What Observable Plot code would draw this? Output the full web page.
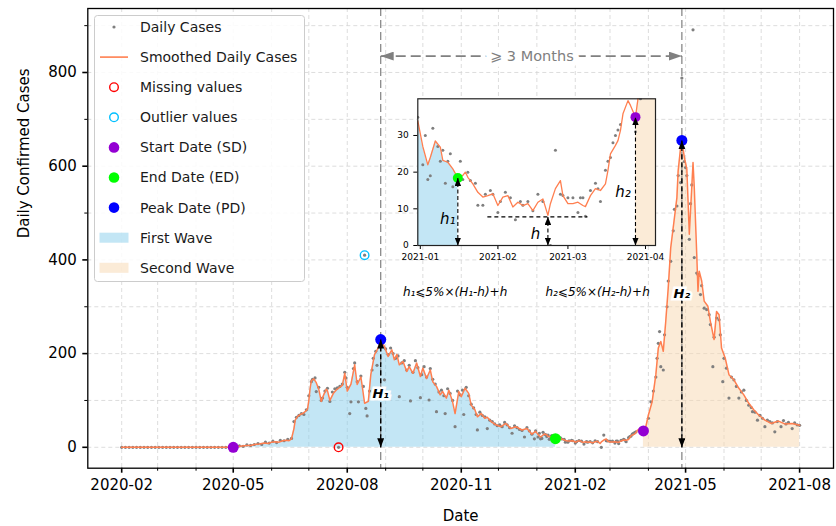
<!DOCTYPE html>
<html><head><meta charset="utf-8">
<script src="https://cdn.jsdelivr.net/npm/d3@7"></script>
<script src="https://cdn.jsdelivr.net/npm/@observablehq/plot@0.6"></script>
<style>
body{margin:0;background:#fff;font-family:"DejaVu Sans",sans-serif}
#wrap{position:relative;width:836px;height:526px;overflow:hidden}
</style></head><body><div id="wrap"></div>
<script>
// ---------------- data ----------------
const smoothPre = [["2020-02-01",0],["2020-03-01",0],["2020-04-01",0],["2020-05-01",0]];
const smoothWave1 = [["2020-05-04",1],["2020-05-08",3],["2020-05-12",4],["2020-05-15",4],["2020-05-18",6],["2020-05-22",7],["2020-05-26",9],["2020-05-29",8],["2020-06-01",11],["2020-06-04",12],["2020-06-07",11],["2020-06-10",14],["2020-06-13",15],["2020-06-15",14],["2020-06-17",18],["2020-06-19",40],["2020-06-20",58],["2020-06-22",66],["2020-06-24",70],["2020-06-26",72],["2020-06-28",76],["2020-06-30",82],["2020-07-01",100],["2020-07-02",125],["2020-07-03",142],["2020-07-05",146],["2020-07-07",138],["2020-07-09",124],["2020-07-11",98],["2020-07-13",112],["2020-07-15",124],["2020-07-16",121],["2020-07-18",100],["2020-07-21",116],["2020-07-23",122],["2020-07-25",126],["2020-07-28",132],["2020-07-30",158],["2020-08-01",120],["2020-08-04",135],["2020-08-07",176],["2020-08-09",134],["2020-08-12",150],["2020-08-13",132],["2020-08-15",94],["2020-08-18",98],["2020-08-20",155],["2020-08-23",198],["2020-08-26",212],["2020-08-28",230],["2020-08-31",215],["2020-09-03",194],["2020-09-06",208],["2020-09-08",187],["2020-09-10",198],["2020-09-12",176],["2020-09-15",183],["2020-09-18",162],["2020-09-20",172],["2020-09-23",158],["2020-09-26",180],["2020-09-29",151],["2020-10-01",169],["2020-10-04",147],["2020-10-07",165],["2020-10-09",140],["2020-10-12",130],["2020-10-15",112],["2020-10-17",119],["2020-10-20",105],["2020-10-22",122],["2020-10-25",97],["2020-10-27",72],["2020-10-30",119],["2020-11-01",108],["2020-11-04",126],["2020-11-07",115],["2020-11-09",90],["2020-11-12",80],["2020-11-14",65],["2020-11-17",72],["2020-11-20",62],["2020-11-22",64],["2020-11-25",55],["2020-11-29",48],["2020-12-03",44],["2020-12-07",51],["2020-12-11",40],["2020-12-15",44],["2020-12-20",37],["2020-12-24",40],["2020-12-28",28],["2020-12-31",34],["2021-01-02",27],["2021-01-04",22],["2021-01-05",24],["2021-01-07",28.5],["2021-01-09",26.8],["2021-01-10",23.2],["2021-01-12",22.7],["2021-01-14",20.9],["2021-01-16",18.4]];
const smoothTrough = [["2021-01-18",19.1],["2021-01-19",20],["2021-01-20",18.6],["2021-01-22",16.8],["2021-01-24",14.5],["2021-01-26",13.2],["2021-01-28",13.6],["2021-01-30",14.1],["2021-02-01",10.9],["2021-02-03",13.2],["2021-02-05",13.6],["2021-02-07",10.5],["2021-02-09",11.8],["2021-02-11",10.9],["2021-02-13",11.4],["2021-02-15",9.5],["2021-02-17",11.8],["2021-02-19",12.7],["2021-02-21",8.2],["2021-02-22",11.4],["2021-02-24",15.5],["2021-02-26",17.7],["2021-02-27",13.6],["2021-03-01",11.4],["2021-03-03",11.4],["2021-03-05",11.8],["2021-03-07",10.9],["2021-03-08",10.6],["2021-03-10",13.6],["2021-03-12",15.5],["2021-03-14",15],["2021-03-16",16.8],["2021-03-17",20.5],["2021-03-18",25],["2021-03-20",27.3],["2021-03-21",28.6],["2021-03-22",31.4],["2021-03-23",35.9],["2021-03-25",39.5],["2021-03-26",38.2]];
const smoothWave2 = [["2021-03-28",35],["2021-03-30",45],["2021-04-01",69],["2021-04-04",97],["2021-04-07",155],["2021-04-09",212],["2021-04-11",226],["2021-04-13",205],["2021-04-15",269],["2021-04-17",340],["2021-04-19",426],["2021-04-22",490],["2021-04-24",533],["2021-04-25",590],["2021-04-27",640],["2021-04-28",655],["2021-04-30",619],["2021-05-02",594],["2021-05-04",455],["2021-05-06",555],["2021-05-07",608],["2021-05-08",555],["2021-05-10",412],["2021-05-11",333],["2021-05-12",376],["2021-05-14",355],["2021-05-16",312],["2021-05-19",301],["2021-05-21",269],["2021-05-24",230],["2021-05-26",290],["2021-05-28",283],["2021-05-30",212],["2021-06-02",190],["2021-06-05",155],["2021-06-09",144],["2021-06-13",126],["2021-06-17",112],["2021-06-21",94],["2021-06-25",80],["2021-06-29",69],["2021-07-04",58],["2021-07-09",51],["2021-07-15",56],["2021-07-20",50],["2021-07-26",51],["2021-08-01",47]];

const dailyPre = [["2020-02-01",0],["2020-02-04",0],["2020-02-07",0],["2020-02-10",0],["2020-02-13",0],["2020-02-16",0],["2020-02-19",0],["2020-02-22",0],["2020-02-25",0],["2020-02-28",0],["2020-03-02",0],["2020-03-05",0],["2020-03-08",0],["2020-03-11",0],["2020-03-14",0],["2020-03-17",0],["2020-03-20",0],["2020-03-23",0],["2020-03-26",0],["2020-03-29",0],["2020-04-01",0],["2020-04-04",0],["2020-04-07",0],["2020-04-10",0],["2020-04-13",0],["2020-04-16",0],["2020-04-19",0],["2020-04-22",0],["2020-04-25",0],["2020-04-28",0],["2020-05-01",0]];
const dailyWave1 = [["2020-05-03",1],["2020-05-06",3],["2020-05-09",2],["2020-05-12",5],["2020-05-15",4],["2020-05-18",6],["2020-05-21",8],["2020-05-24",6],["2020-05-27",11],["2020-05-30",9],["2020-06-02",13],["2020-06-05",10],["2020-06-08",15],["2020-06-11",14],["2020-06-14",17],["2020-06-17",19],["2020-06-19",55],["2020-06-21",64],["2020-06-23",68],["2020-06-25",72],["2020-06-27",70],["2020-06-29",80],["2020-07-01",110],["2020-07-03",140],["2020-07-04",145],["2020-07-06",148],["2020-07-07",119],["2020-07-09",128],["2020-07-11",100],["2020-07-12",105],["2020-07-14",120],["2020-07-16",126],["2020-07-18",98],["2020-07-20",118],["2020-07-22",125],["2020-07-24",127],["2020-07-25",0],["2020-07-26",130],["2020-07-28",135],["2020-07-30",160],["2020-07-31",148],["2020-08-01",128],["2020-08-03",72],["2020-08-04",97],["2020-08-06",168],["2020-08-07",180],["2020-08-09",140],["2020-08-10",97],["2020-08-12",152],["2020-08-14",130],["2020-08-15",410],["2020-08-16",83],["2020-08-17",67],["2020-08-19",120],["2020-08-21",165],["2020-08-22",190],["2020-08-24",205],["2020-08-25",175],["2020-08-27",215],["2020-08-29",222],["2020-08-30",225],["2020-08-31",144],["2020-09-01",210],["2020-09-03",198],["2020-09-05",212],["2020-09-07",200],["2020-09-09",190],["2020-09-11",195],["2020-09-12",108],["2020-09-14",180],["2020-09-16",185],["2020-09-18",165],["2020-09-20",175],["2020-09-21",99],["2020-09-23",160],["2020-09-25",185],["2020-09-27",170],["2020-09-29",106],["2020-09-30",155],["2020-10-02",172],["2020-10-04",150],["2020-10-06",101],["2020-10-07",168],["2020-10-09",145],["2020-10-11",135],["2020-10-12",76],["2020-10-14",118],["2020-10-16",122],["2020-10-18",110],["2020-10-19",72],["2020-10-21",125],["2020-10-23",115],["2020-10-25",100],["2020-10-27",44],["2020-10-29",120],["2020-10-31",112],["2020-11-02",122],["2020-11-03",70],["2020-11-05",128],["2020-11-07",110],["2020-11-09",92],["2020-11-11",84],["2020-11-13",70],["2020-11-14",37],["2020-11-16",75],["2020-11-18",68],["2020-11-20",65],["2020-11-22",40],["2020-11-24",58],["2020-11-26",55],["2020-11-28",50],["2020-11-30",46],["2020-12-02",48],["2020-12-04",44],["2020-12-06",53],["2020-12-08",48],["2020-12-10",42],["2020-12-12",30],["2020-12-14",46],["2020-12-16",42],["2020-12-18",38],["2020-12-20",36],["2020-12-22",22],["2020-12-24",42],["2020-12-26",35],["2020-12-28",28],["2020-12-30",18],["2020-12-31",35],["2021-01-02",22],["2021-01-03",30],["2021-01-04",18],["2021-01-05",19],["2021-01-06",32],["2021-01-08",27],["2021-01-09",23],["2021-01-10",26],["2021-01-11",17],["2021-01-12",23],["2021-01-13",25],["2021-01-14",16],["2021-01-15",18]];
const dailyTrough = [["2021-01-17",23],["2021-01-18",18],["2021-01-20",20],["2021-01-21",17.7],["2021-01-23",17],["2021-01-24",11],["2021-01-26",11],["2021-01-27",14],["2021-01-29",15],["2021-01-30",14],["2021-02-01",9],["2021-02-02",12],["2021-02-04",14.5],["2021-02-06",13],["2021-02-08",7],["2021-02-10",12],["2021-02-11",11],["2021-02-13",12],["2021-02-15",9.5],["2021-02-17",14],["2021-02-19",12],["2021-02-22",0],["2021-02-24",26],["2021-02-26",14],["2021-02-27",13.6],["2021-03-01",13],["2021-03-03",13],["2021-03-05",9],["2021-03-06",13],["2021-03-07",13],["2021-03-08",8],["2021-03-10",15],["2021-03-12",17],["2021-03-13",15.5],["2021-03-14",12],["2021-03-16",20.5],["2021-03-17",23],["2021-03-18",24],["2021-03-19",28],["2021-03-20",30],["2021-03-21",31.5],["2021-03-22",33]];
const dailyWave2 = [["2021-03-28",31],["2021-03-30",40],["2021-04-01",62],["2021-04-03",97],["2021-04-05",120],["2021-04-07",150],["2021-04-08",190],["2021-04-09",222],["2021-04-10",247],["2021-04-11",172],["2021-04-13",165],["2021-04-14",240],["2021-04-16",300],["2021-04-17",355],["2021-04-19",397],["2021-04-21",462],["2021-04-22",508],["2021-04-24",515],["2021-04-25",580],["2021-04-27",565],["2021-04-28",788],["2021-04-29",640],["2021-04-30",610],["2021-05-01",597],["2021-05-02",580],["2021-05-04",444],["2021-05-05",520],["2021-05-06",560],["2021-05-07",891],["2021-05-08",405],["2021-05-10",372],["2021-05-11",369],["2021-05-13",326],["2021-05-14",345],["2021-05-16",297],["2021-05-18",294],["2021-05-20",283],["2021-05-21",262],["2021-05-23",172],["2021-05-24",235],["2021-05-26",276],["2021-05-28",272],["2021-05-29",240],["2021-05-31",140],["2021-06-01",190],["2021-06-03",169],["2021-06-05",105],["2021-06-07",150],["2021-06-09",144],["2021-06-11",130],["2021-06-13",105],["2021-06-15",118],["2021-06-17",122],["2021-06-19",100],["2021-06-21",90],["2021-06-23",85],["2021-06-24",76],["2021-06-26",75],["2021-06-28",58],["2021-06-30",68],["2021-07-02",62],["2021-07-04",44],["2021-07-06",58],["2021-07-08",55],["2021-07-10",52],["2021-07-12",33],["2021-07-14",55],["2021-07-17",44],["2021-07-19",57],["2021-07-21",50],["2021-07-23",53],["2021-07-26",40],["2021-07-28",52],["2021-07-30",48],["2021-08-01",47]];

const startDates = ["2020-05-01","2021-03-28"], startValues = [0, 35];
const endDates = ["2021-01-16"], endValues = [18.4];
const peakDates = ["2020-08-28","2021-04-28"], peakValues = [230, 655];
const missingDates = ["2020-07-25"], missingValues = [0];
const outlierDates = ["2020-08-15"], outlierValues = [410];
const waveStarts = ["2020-05-01","2021-03-28"], waveEnds = ["2021-01-16","2021-08-01"];

const xTickLabels = ["2020-02","2020-05","2020-08","2020-11","2021-02","2021-05","2021-08"];
const yTicks = [0,200,400,600,800];
const yMinorTicks = [100,300,500,700,900];
const insetXTickLabels = ["2021-01","2021-02","2021-03","2021-04"];
const insetYTicks = [0,10,20,30];

const gapLabel = "⩾ 3 Months", gapLevel = 835, gapLabelDate = "2020-12-28";
const heightLabels = ["H₁","H₂"], heightLabelValues = [115, 327];
const formulaLabels = ["h₁⩽5%×(H₁-h)+h","h₂⩽5%×(H₂-h)+h"], formulaDates = ["2020-10-27","2021-02-19"], formulaLevel = 331;
const insetRange = ["2020-12-31","2021-04-05"];
const hDate = "2021-02-21", hLevel = 7.8, hLineRange = ["2021-01-28","2021-03-09"];
const insetLabels = ["h₁","h","h₂"], insetLabelDates = ["2021-01-12","2021-02-16","2021-03-23"], insetLabelValues = [7.3, 3.2, 14.5];

const legendLabels = ["Daily Cases","Smoothed Daily Cases","Missing values","Outlier values","Start Date (SD)","End Date (ED)","Peak Date (PD)","First Wave","Second Wave"];

// ---------------- colours ----------------
const C = {dot:"#7f7f7f", line:"#ff7f50", miss:"#ff0000", out:"#00bfff", sd:"#9400d3", ed:"#00ff00", pd:"#0000ff", w1:"#87ceeb", w2:"#f8d7b0"};

// ---------------- helpers ----------------
const P = s => new Date(s + "T00:00:00Z");
const rows = a => a.map(([d, v]) => ({date: P(d), value: v}));
const pts = (ds, vs) => ds.map((d, i) => ({date: P(d), value: vs[i]}));
const smooth = rows([...smoothPre, ...smoothWave1, ...smoothTrough, ...smoothWave2]);
const daily = rows([...dailyPre, ...dailyWave1, ...dailyTrough, ...dailyWave2]);
const wave1 = smooth.filter(d => d.date >= P(waveStarts[0]) && d.date <= P(waveEnds[0]));
const wave2 = smooth.filter(d => d.date >= P(waveStarts[1]) && d.date <= P(waveEnds[1]));
const starts = pts(startDates, startValues), ends = pts(endDates, endValues), peaks = pts(peakDates, peakValues);
const missing = pts(missingDates, missingValues), outliers = pts(outlierDates, outlierValues);

const ns = "http://www.w3.org/2000/svg";
function tri(len, wid) {
  return (color, context) => {
    const doc = (context && context.document) || document;
    const m = doc.createElementNS(ns, "marker");
    m.setAttribute("viewBox", `${-len} ${-wid/2} ${len} ${wid}`);
    m.setAttribute("markerWidth", len);
    m.setAttribute("markerHeight", wid);
    m.setAttribute("markerUnits", "userSpaceOnUse");
    m.setAttribute("refX", 0); m.setAttribute("refY", 0);
    m.setAttribute("orient", "auto-start-reverse");
    const p = doc.createElementNS(ns, "path");
    p.setAttribute("d", `M${-len},${-wid/2}L0,0L${-len},${wid/2}Z`);
    p.setAttribute("fill", color); p.setAttribute("stroke", "none");
    p.setAttribute("stroke-dasharray", "none");
    m.appendChild(p);
    return m;
  };
}

const DAY = 864e5;
const x0 = P("2020-02-01"), x1 = P("2021-08-01");
const padX = (x1 - x0) * 0.05;
const xDomain = [new Date(+x0 - padX), new Date(+x1 + padX)];
const yDomain = [-0.05 * 892, 892 * 1.05];
const monthTicks = d3.utcMonth.range(P("2020-02-01"), P("2021-08-02"));
const xMajor = xTickLabels.map(s => P(s + "-01"));
const xMinor = monthTicks.filter(d => !xMajor.some(m => +m === +d));
const fmt = d3.utcFormat("%Y-%m");
const grid = {stroke:"#d4d4d4", strokeOpacity:1, strokeDasharray:"4,3", strokeWidth:0.8};

const main = Plot.plot({
  width: 836, height: 526,
  marginLeft: 87.3, marginRight: 3, marginTop: 8, marginBottom: 58.3,
  style: {fontFamily: "DejaVu Sans, sans-serif", fontSize: "15px", background: "transparent", position: "absolute", left: "0px", top: "0px", overflow: "visible"},
  x: {type: "utc", domain: xDomain},
  y: {domain: yDomain},
  marks: [
    Plot.gridX(monthTicks, grid),
    Plot.gridY([...yTicks, ...yMinorTicks], grid),
    Plot.areaY(wave1, {x: "date", y: "value", fill: C.w1, fillOpacity: 0.5}),
    Plot.areaY(wave2, {x: "date", y: "value", fill: C.w2, fillOpacity: 0.5}),
    Plot.ruleX(peaks, {x: "date", stroke: "#808080", strokeDasharray: "8,4", strokeWidth: 1.2}),
    Plot.dot(daily, {x: "date", y: "value", r: 1.6, fill: C.dot}),
    Plot.line(smooth, {x: "date", y: "value", stroke: C.line, strokeWidth: 1.5}),
    Plot.dot(missing, {x: "date", y: "value", r: 4.3, stroke: C.miss, strokeWidth: 1.4, fill: "none"}),
    Plot.dot(outliers, {x: "date", y: "value", r: 4.3, stroke: C.out, strokeWidth: 1.4, fill: "none"}),
    Plot.dot(starts, {x: "date", y: "value", r: 5.5, fill: C.sd}),
    Plot.dot(ends, {x: "date", y: "value", r: 5.5, fill: C.ed}),
    Plot.dot(peaks, {x: "date", y: "value", r: 5.5, fill: C.pd}),
    Plot.link(peaks, {x1: "date", x2: "date", y1: 0, y2: "value", stroke: "black", strokeWidth: 1.4, strokeDasharray: "5,3", markerStart: tri(9, 7), markerEnd: tri(9, 7)}),
    Plot.link([0], {x1: () => P(peakDates[0]), x2: () => P(peakDates[1]), y1: gapLevel, y2: gapLevel, stroke: "#808080", strokeWidth: 1.7, strokeDasharray: "10,5", markerStart: tri(13, 9), markerEnd: tri(13, 9)}),
    Plot.text([gapLabel], {x: () => P(gapLabelDate), y: gapLevel, text: d => d, fill: "#808080", stroke: "white", strokeWidth: 12, strokeLinejoin: "round", fontSize: 14.5, fontFamily: "DejaVu Sans, sans-serif"}),
    Plot.text(heightLabels, {x: (d, i) => P(peakDates[i]), y: (d, i) => heightLabelValues[i], text: d => d, fontWeight: "bold", fontStyle: "italic", fontSize: 13, fill: "black", stroke: "white", strokeWidth: 5, strokeLinejoin: "miter"}),
    Plot.text(formulaLabels, {x: (d, i) => P(formulaDates[i]), y: formulaLevel, text: d => d, fontStyle: "italic", fontSize: 12, fill: "black"}),
    Plot.axisX(xMajor, {tickFormat: fmt, tickSize: 5, tickPadding: 6, strokeWidth: 1.6, fontSize: 15, label: null}),
    Plot.axisX(xMinor, {tickFormat: () => "", tickSize: 3, strokeWidth: 1, label: null}),
    Plot.axisY(yTicks, {tickSize: 5, tickPadding: 6, strokeWidth: 1.6, fontSize: 15, label: null}),
    Plot.axisY(yMinorTicks, {tickFormat: () => "", tickSize: 3, strokeWidth: 1, label: null}),
    Plot.text(["Date"], {frameAnchor: "bottom", dy: 48, lineAnchor: "middle", fontSize: 15, text: d => d}),
    Plot.text(["Daily Confirmed Cases"], {frameAnchor: "left", dx: -64, rotate: -90, fontSize: 15, text: d => d}),
    Plot.frame({stroke: "black", strokeWidth: 1.3})
  ]
});

// ---------------- inset ----------------
const iLo = P(insetRange[0]), iHi = P(insetRange[1]);
const inRange = d => d.date >= new Date(+iLo - 5 * DAY) && d.date <= new Date(+iHi + 5 * DAY);
const inset = Plot.plot({
  width: 285, height: 195,
  marginLeft: 37.3, marginRight: 10, marginTop: 18.3, marginBottom: 30,
  style: {fontFamily: "DejaVu Sans, sans-serif", fontSize: "9px", background: "transparent", position: "absolute", left: "380px", top: "80px", overflow: "visible"},
  x: {type: "utc", domain: [iLo, iHi]},
  y: {domain: [0, 40]},
  marks: [
    Plot.frame({fill: "white", stroke: null}),
    Plot.areaY(wave1.filter(inRange), {x: "date", y: "value", fill: C.w1, fillOpacity: 0.5, clip: true}),
    Plot.areaY(wave2.filter(inRange), {x: "date", y: "value", fill: C.w2, fillOpacity: 0.5, clip: true}),
    Plot.dot(daily.filter(d => d.date >= iLo && d.date <= iHi), {x: "date", y: "value", r: 1.5, fill: C.dot, clip: true}),
    Plot.line(smooth.filter(inRange), {x: "date", y: "value", stroke: C.line, strokeWidth: 1.3, clip: true}),
    Plot.dot(ends, {x: "date", y: "value", r: 5, fill: C.ed}),
    Plot.dot(starts.filter(d => d.date >= iLo), {x: "date", y: "value", r: 5, fill: C.sd}),
    Plot.ruleY([hLevel], {x1: () => P(hLineRange[0]), x2: () => P(hLineRange[1]), stroke: "black", strokeWidth: 1.1, strokeDasharray: "4,3"}),
    Plot.link([
      {date: P(endDates[0]), value: endValues[0]},
      {date: P(hDate), value: hLevel},
      {date: P(startDates[1]), value: startValues[1]}
    ], {x1: "date", x2: "date", y1: 0, y2: "value", stroke: "black", strokeWidth: 1.1, strokeDasharray: "4,2.5", markerStart: tri(8, 6.5), markerEnd: tri(8, 6.5)}),
    Plot.text(insetLabels, {x: (d, i) => P(insetLabelDates[i]), y: (d, i) => insetLabelValues[i], text: d => d, fontStyle: "italic", fontSize: 15, fill: "black"}),
    Plot.axisX(insetXTickLabels.map(s => P(s + "-01")), {tickFormat: fmt, tickSize: 4, tickPadding: 4, fontSize: 9, strokeWidth: 1, label: null}),
    Plot.axisY(insetYTicks, {tickSize: 4, tickPadding: 5, fontSize: 9, strokeWidth: 1, label: null}),
    Plot.frame({stroke: "#222", strokeWidth: 1.2})
  ]
});

// ---------------- legend ----------------
const wrap = document.getElementById("wrap");
wrap.appendChild(main);
const lg = d3.create("svg").attr("width", 212).attr("height", 268)
  .style("position", "absolute").style("left", "94px").style("top", "15px")
  .style("font-family", "DejaVu Sans, sans-serif");
lg.append("rect").attr("x", 0.5).attr("y", 0.5).attr("width", 210).attr("height", 266).attr("rx", 3)
  .attr("fill", "white").attr("fill-opacity", 0.85).attr("stroke", "#cccccc");
const sx = 20, tx = 46;
legendLabels.forEach((lab, i) => {
  const y = 12 + i * 30.1;
  const g = lg.append("g");
  if (i === 0) g.append("circle").attr("cx", sx).attr("cy", y).attr("r", 1.6).attr("fill", C.dot);
  if (i === 1) g.append("line").attr("x1", 6).attr("x2", 34).attr("y1", y).attr("y2", y).attr("stroke", C.line).attr("stroke-width", 1.6);
  if (i === 2) g.append("circle").attr("cx", sx).attr("cy", y).attr("r", 4.3).attr("fill", "none").attr("stroke", C.miss).attr("stroke-width", 1.4);
  if (i === 3) g.append("circle").attr("cx", sx).attr("cy", y).attr("r", 4.3).attr("fill", "none").attr("stroke", C.out).attr("stroke-width", 1.4);
  if (i === 4) g.append("circle").attr("cx", sx).attr("cy", y).attr("r", 5.3).attr("fill", C.sd);
  if (i === 5) g.append("circle").attr("cx", sx).attr("cy", y).attr("r", 5.3).attr("fill", C.ed);
  if (i === 6) g.append("circle").attr("cx", sx).attr("cy", y).attr("r", 5.3).attr("fill", C.pd);
  if (i === 7) g.append("rect").attr("x", 5.5).attr("y", y - 5).attr("width", 29).attr("height", 10).attr("fill", C.w1).attr("fill-opacity", 0.5);
  if (i === 8) g.append("rect").attr("x", 5.5).attr("y", y - 5).attr("width", 29).attr("height", 10).attr("fill", C.w2).attr("fill-opacity", 0.5);
  g.append("text").attr("x", tx).attr("y", y).attr("dy", "0.35em").attr("font-size", 14).attr("fill", "#1a1a1a").text(lab);
});
wrap.appendChild(lg.node());
wrap.appendChild(inset);
</script></body></html>
